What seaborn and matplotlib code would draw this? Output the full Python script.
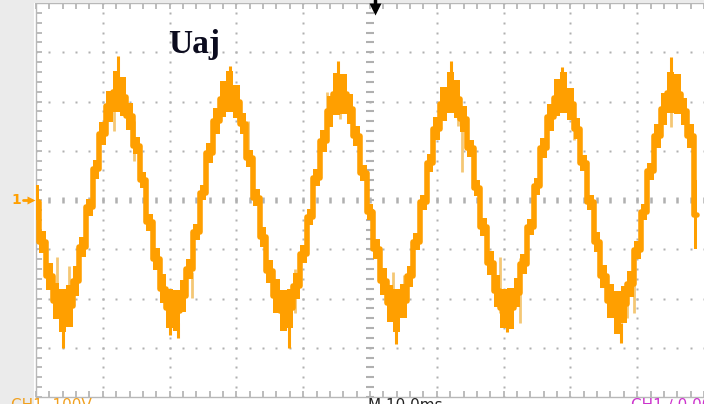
import numpy as np
import matplotlib
matplotlib.use("Agg")
import matplotlib.pyplot as plt
import seaborn as sns

# Channel 1 trace, sampled every 0.1 horizontal division (vertical units: divisions)
SAMPLE_DT = 0.1
trace_center = [
    -0.05, -0.85, -1.55, -2.05, -2.25, -2.15, -1.65, -0.95, -0.15, 0.62,
    1.35, 1.90, 2.20, 2.10, 1.70, 1.10, 0.40, -0.45, -1.20, -1.80,
    -2.20, -2.25, -1.95, -1.40, -0.65, 0.15, 0.95, 1.60, 2.05, 2.20,
    2.00, 1.55, 0.85, 0.05, -0.75, -1.45, -1.95, -2.25, -2.20, -1.75,
    -1.10, -0.35, 0.45, 1.20, 1.80, 2.15, 2.15, 1.85, 1.30, 0.55,
    -0.25, -1.00, -1.65, -2.10, -2.25, -2.05, -1.55, -0.85, -0.05, 0.75,
    1.45, 1.95, 2.18, 2.05, 1.65, 1.05, 0.25, -0.55, -1.28, -1.85,
    -2.20, -2.20, -1.88, -1.30, -0.55, 0.28, 1.05, 1.68, 2.08, 2.18,
    1.95, 1.45, 0.75, -0.05, -0.85, -1.55, -2.05, -2.28, -2.12, -1.70,
    -1.02, -0.25, 0.58, 1.30, 1.85, 2.18, 2.15, 1.80, 1.30, -0.30,
]
# half-height of the switching ripple around the trace at each sample
trace_ripple = [
    0.35, 0.22, 0.27, 0.37, 0.44, 0.42, 0.30, 0.20, 0.17, 0.20,
    0.24, 0.32, 0.42, 0.40, 0.27, 0.17, 0.16, 0.17, 0.22, 0.30,
    0.40, 0.42, 0.32, 0.20, 0.17, 0.16, 0.20, 0.27, 0.37, 0.42,
    0.34, 0.22, 0.17, 0.17, 0.20, 0.24, 0.34, 0.42, 0.40, 0.27,
    0.18, 0.16, 0.17, 0.22, 0.32, 0.42, 0.40, 0.30, 0.20, 0.17,
    0.16, 0.20, 0.27, 0.37, 0.44, 0.34, 0.22, 0.17, 0.16, 0.18,
    0.24, 0.34, 0.42, 0.38, 0.26, 0.17, 0.16, 0.18, 0.24, 0.32,
    0.40, 0.42, 0.30, 0.20, 0.16, 0.17, 0.20, 0.27, 0.37, 0.42,
    0.32, 0.22, 0.17, 0.16, 0.20, 0.24, 0.34, 0.44, 0.38, 0.26,
    0.18, 0.16, 0.18, 0.24, 0.32, 0.42, 0.40, 0.28, 0.25, 0.70,
]

# strong spikes at the extremes of each cycle: time, from, to (divisions)
spike_t = [0.40, 1.23, 2.01, 2.13, 2.90, 3.79, 4.52, 5.39, 6.21, 7.05, 7.87, 8.76, 9.51]
spike_lo = [-2.5, 2.4, -2.5, -2.5, 2.3, -2.5, 2.3, -2.5, 2.3, -2.4, 2.3, -2.5, 2.4]
spike_hi = [-3.0, 2.92, -2.75, -2.80, 2.73, -3.0, 2.82, -2.92, 2.82, -2.69, 2.71, -2.90, 2.90]

# fainter overshoot traces
faint_t = [0.31, 0.50, 1.17, 1.47, 2.33, 3.03, 3.18, 3.87, 4.36, 4.55,
           5.35, 5.51, 6.31, 6.38, 6.95, 7.24, 8.06, 8.84, 8.95, 9.51]
faint_lo = [-1.8, -2.4, 1.4, 0.8, -1.98, 1.6, 0.85, -2.3, 1.6, 1.65,
            -2.2, -2.2, 1.5, 0.57, -2.3, -2.5, 1.22, -2.4, -2.3, 1.49]
faint_hi = [-1.15, -1.35, 2.0, 1.6, -1.47, 2.1, 1.6, -1.4, 2.2, 2.3,
            -1.47, -1.53, 2.2, 1.6, -1.15, -1.18, 1.8, -1.67, -1.59, 2.2]

TRACE = "#FF9F00"
TRACE_FAINT = "#F4C775"
GRID = "#b0b0b0"

sns.set_theme(style="white")
W, H = 704, 404
fig = plt.figure(figsize=(W / 100, H / 100), dpi=100, facecolor="white")

# screen area: left edge at 36 px, top at 3 px, bottom at 397 px
x0, y_top, y_bot = 36, 3, 397
ax = fig.add_axes([x0 / W, (H - y_bot) / H, (W - x0) / W, (y_bot - y_top) / H])
ax.set_facecolor("white")
xmax = (W - x0) / 67.5
ax.set_xlim(0, xmax)
ax.set_ylim(-4, 4)

# side panel and top strip
fig.patches.append(plt.Rectangle((0, 0), 34 / W, 1, transform=fig.transFigure,
                                 facecolor="#ebebeb", edgecolor="none", zorder=0))
fig.patches.append(plt.Rectangle((0, 1 - 3 / H), 1, 3 / H, transform=fig.transFigure,
                                 facecolor="#ebebeb", edgecolor="none", zorder=0))

# graticule dots
fine = np.arange(0, 10.01, 0.2)
for gy in range(-3, 4):
    if gy == 0:
        continue
    ax.plot(fine, np.full_like(fine, gy), "s", ms=1.5, color=GRID, mec="none", zorder=1)
fine_y = np.arange(-4, 4.01, 0.2)
for gx in range(1, 10):
    if gx == 5:
        continue
    ax.plot(np.full_like(fine_y, gx), fine_y, "s", ms=1.5, color=GRID, mec="none", zorder=1)
# centre axes with tick marks
ax.plot(fine, np.zeros_like(fine), "|", ms=5, mew=1.8, color=GRID, zorder=1)
ax.plot(np.full_like(fine_y, 5), fine_y, "_", ms=6, mew=1.5, color=GRID, zorder=1)

# border ticks
ax.set_xticks(np.arange(0, 10.01, 0.2))
ax.set_yticks(np.arange(-4, 4.01, 0.2))
ax.tick_params(axis="both", direction="in", length=4, width=1.2, color=GRID,
               labelleft=False, labelbottom=False, left=True, bottom=True, top=True,
               right=False)
for side in ("left", "top", "bottom"):
    ax.spines[side].set_color("#b8b8b8")
    ax.spines[side].set_linewidth(1.0)
ax.spines["right"].set_visible(False)

# trace
t = np.arange(len(trace_center)) * SAMPLE_DT
center = np.array(trace_center)
ripple = np.array(trace_ripple)
ax.fill_between(t, center - ripple, center + ripple, step="mid", color=TRACE,
                lw=0, zorder=3)
sns.lineplot(x=t, y=center, ax=ax, drawstyle="steps-mid", color=TRACE, lw=4.0,
             estimator=None, zorder=3)
ax.vlines(faint_t, faint_lo, faint_hi, color=TRACE_FAINT, lw=2.0, zorder=2.5)
ax.vlines(spike_t, spike_lo, spike_hi, color=TRACE, lw=2.2, zorder=3)

# label
ax.text((170 - x0) / 67.5, 2.98, "Uaj", fontsize=24, fontweight="bold",
        family="Liberation Serif", color="#0b0b1e", va="baseline", ha="left", zorder=5)

# channel marker and trigger arrow
fig.text(11 / W, 1 - 200 / H, "1", color=TRACE, fontsize=10, fontweight="bold",
         ha="left", va="center")
fig.add_artist(plt.Line2D([23 / W, 31 / W], [1 - 200 / H, 1 - 200 / H],
                          transform=fig.transFigure, color=TRACE, lw=2))
fig.add_artist(plt.Line2D([31 / W], [1 - 200 / H], transform=fig.transFigure,
                          marker=">", ms=6, color=TRACE, mec="none"))
fig.add_artist(plt.Line2D([375 / W, 375 / W], [1 - 0 / H, 1 - 7 / H],
                          transform=fig.transFigure, color="black", lw=2.5))
fig.add_artist(plt.Line2D([375 / W], [1 - 9 / H], transform=fig.transFigure,
                          marker="v", ms=9, color="black", mec="none"))

# status line along the bottom edge
fig.text(11 / W, 1 - 398 / H, "CH1  100V", color="#F0A020", fontsize=11, va="top")
fig.text(368 / W, 1 - 398 / H, "M 10.0ms", color="#222222", fontsize=11, va="top")
fig.text(631 / W, 1 - 398 / H, "CH1 \u2215 0.00V", color="#CC33CC", fontsize=11, va="top")

fig.savefig("out.png", dpi=100, facecolor=fig.get_facecolor())
